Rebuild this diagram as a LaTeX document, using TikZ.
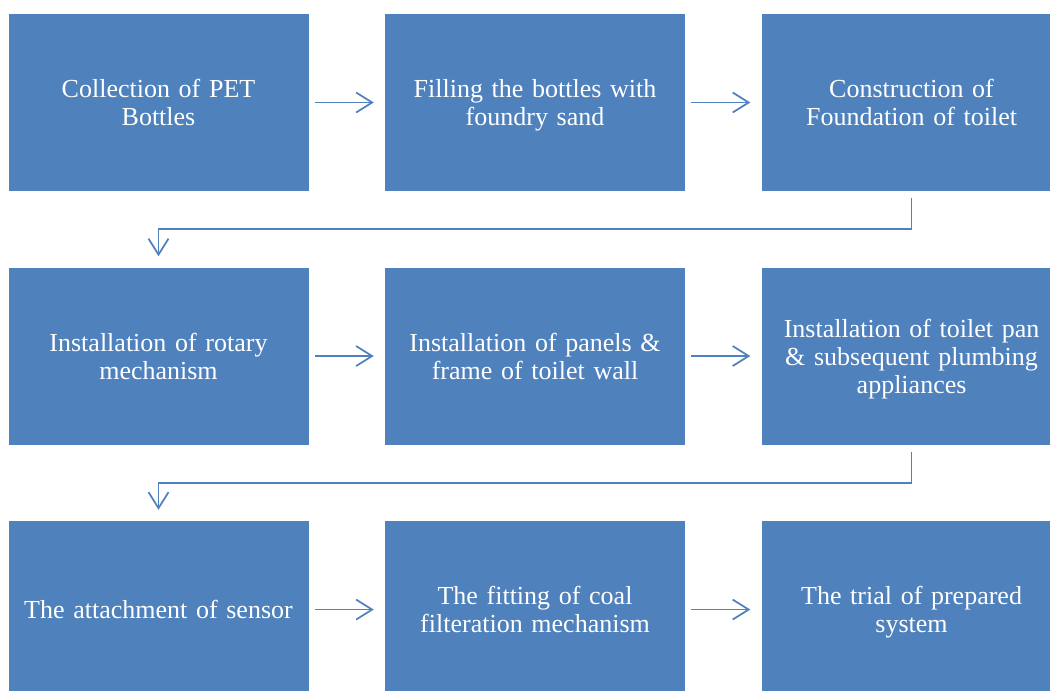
\documentclass[tikz,border=0pt]{standalone}
\usepackage{fontspec}
\setmainfont{Liberation Serif}
\usetikzlibrary{arrows.meta,positioning}

\begin{document}
\begin{tikzpicture}[>={Straight Barb[length=12pt,width=15pt]},node distance=57pt and 57pt,
    stepbox/.style={fill=boxblue,text=white,minimum width=225pt,minimum height=132.75pt,
        text width=215pt,align=center,inner sep=0pt,font=\fontsize{19.5}{21}\selectfont,
        execute at begin node={\rule{0pt}{20pt}},execute at end node=\strut},
    flow/.style={->,draw=boxblue,line width=1.3pt,shorten <=4.5pt,shorten >=8.25pt}]
    \definecolor{boxblue}{HTML}{4F81BD}
    \useasboundingbox (0,0) rectangle (787.5pt,-518.25pt);

    \node[stepbox] (collect) at (118.875pt,-76.875pt) {Collection of PET\\Bottles};
    \node[stepbox] (fill) [right=of collect] {Filling the bottles with\\foundry sand};
    \node[stepbox] (found) [right=of fill] {Construction of\\Foundation of toilet};
    \node[stepbox] (rotary) [below=of collect] {Installation of rotary\\mechanism};
    \node[stepbox] (panels) [right=of rotary] {Installation of panels \&\\frame of toilet wall};
    \node[stepbox] (pan) [right=of panels] {Installation of toilet pan\\\& subsequent plumbing\\appliances};
    \node[stepbox] (sensor) [below=of rotary] {The attachment of sensor};
    \node[stepbox] (coal) [right=of sensor] {The fitting of coal\\filteration mechanism};
    \node[stepbox] (trial) [right=of coal] {The trial of prepared\\system};

    \path[flow]
        (collect) edge (fill)
        (fill) edge (found)
        (rotary) edge (panels)
        (panels) edge (pan)
        (sensor) edge (coal)
        (coal) edge (trial);

    % row to row
    \draw[flow,shorten <=5.25pt] (found.south) -- ++(0,-28.5pt) -| (rotary.north);
    \draw[flow,shorten <=5.25pt] (pan.south) -- ++(0,-28.5pt) -| (sensor.north);
\end{tikzpicture}
\end{document}
